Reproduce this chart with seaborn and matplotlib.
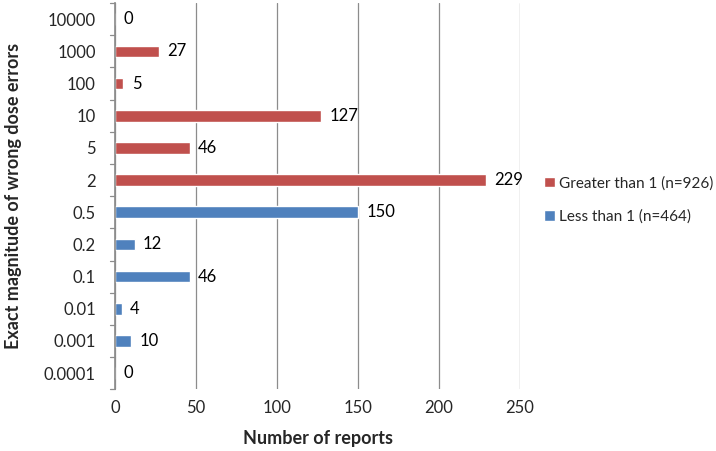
import pandas as pd
import matplotlib.pyplot as plt
import seaborn as sns

# Data (top to bottom)
magnitudes = ['10000', '1000', '100', '10', '5', '2', '0.5', '0.2', '0.1', '0.01', '0.001', '0.0001']
reports = [0, 27, 5, 127, 46, 229, 150, 12, 46, 4, 10, 0]
groups = ['Greater than 1 (n=926)'] * 6 + ['Less than 1 (n=464)'] * 6
x_ticks = [0, 50, 100, 150, 200, 250]

df = pd.DataFrame({'magnitude': magnitudes, 'reports': reports, 'group': groups})

sns.set_theme(style='white')
plt.rcParams['font.family'] = ['Lato', 'DejaVu Sans']

fig = plt.figure(figsize=(7.16, 4.51), dpi=100)
ax = fig.add_axes([0.161, 0.137, 0.565, 0.856])

palette = {'Greater than 1 (n=926)': '#C0504D', 'Less than 1 (n=464)': '#4F81BD'}
sns.barplot(data=df, y='magnitude', x='reports', hue='group', order=magnitudes,
            palette=palette, dodge=False, width=0.36, orient='h', ax=ax,
            saturation=1)

for container in ax.containers:
    ax.bar_label(container, fmt='%d', padding=6, fontsize=12, color='black')

# Excel-like axes
ax.set_xlim(0, 250)
ax.set_ylim(len(magnitudes) - 0.5, -0.5)
ax.set_xticks(x_ticks)
ax.set_xticklabels([str(t) for t in x_ticks], fontsize=12)
ax.tick_params(axis='y', labelsize=12, length=0, pad=14)
ax.tick_params(axis='x', length=0, pad=8)
ax.grid(axis='x', color='#8c8c8c', linewidth=0.9)
ax.set_axisbelow(True)

for side in ['top', 'right', 'bottom']:
    ax.spines[side].set_visible(False)
ax.spines['left'].set_color('#8c8c8c')

# tick marks on the category boundaries
for b in range(len(magnitudes) + 1):
    ax.plot([-0.012, 0], [b - 0.5, b - 0.5], transform=ax.get_yaxis_transform(),
            color='#8c8c8c', linewidth=0.9, clip_on=False)

ax.set_xlabel('Number of reports', fontsize=13, fontweight='bold', labelpad=10)
ax.set_ylabel('Exact magnitude of wrong dose errors', fontsize=13, fontweight='bold', labelpad=16)

handles, labels = ax.get_legend_handles_labels()
ax.legend(handles, labels, loc='center left', bbox_to_anchor=(1.045, 0.49),
          frameon=False, fontsize=11, handlelength=0.7, handleheight=0.7,
          handletextpad=0.3, labelspacing=1.25, borderaxespad=0)

plt.savefig('out.png', dpi=100)
